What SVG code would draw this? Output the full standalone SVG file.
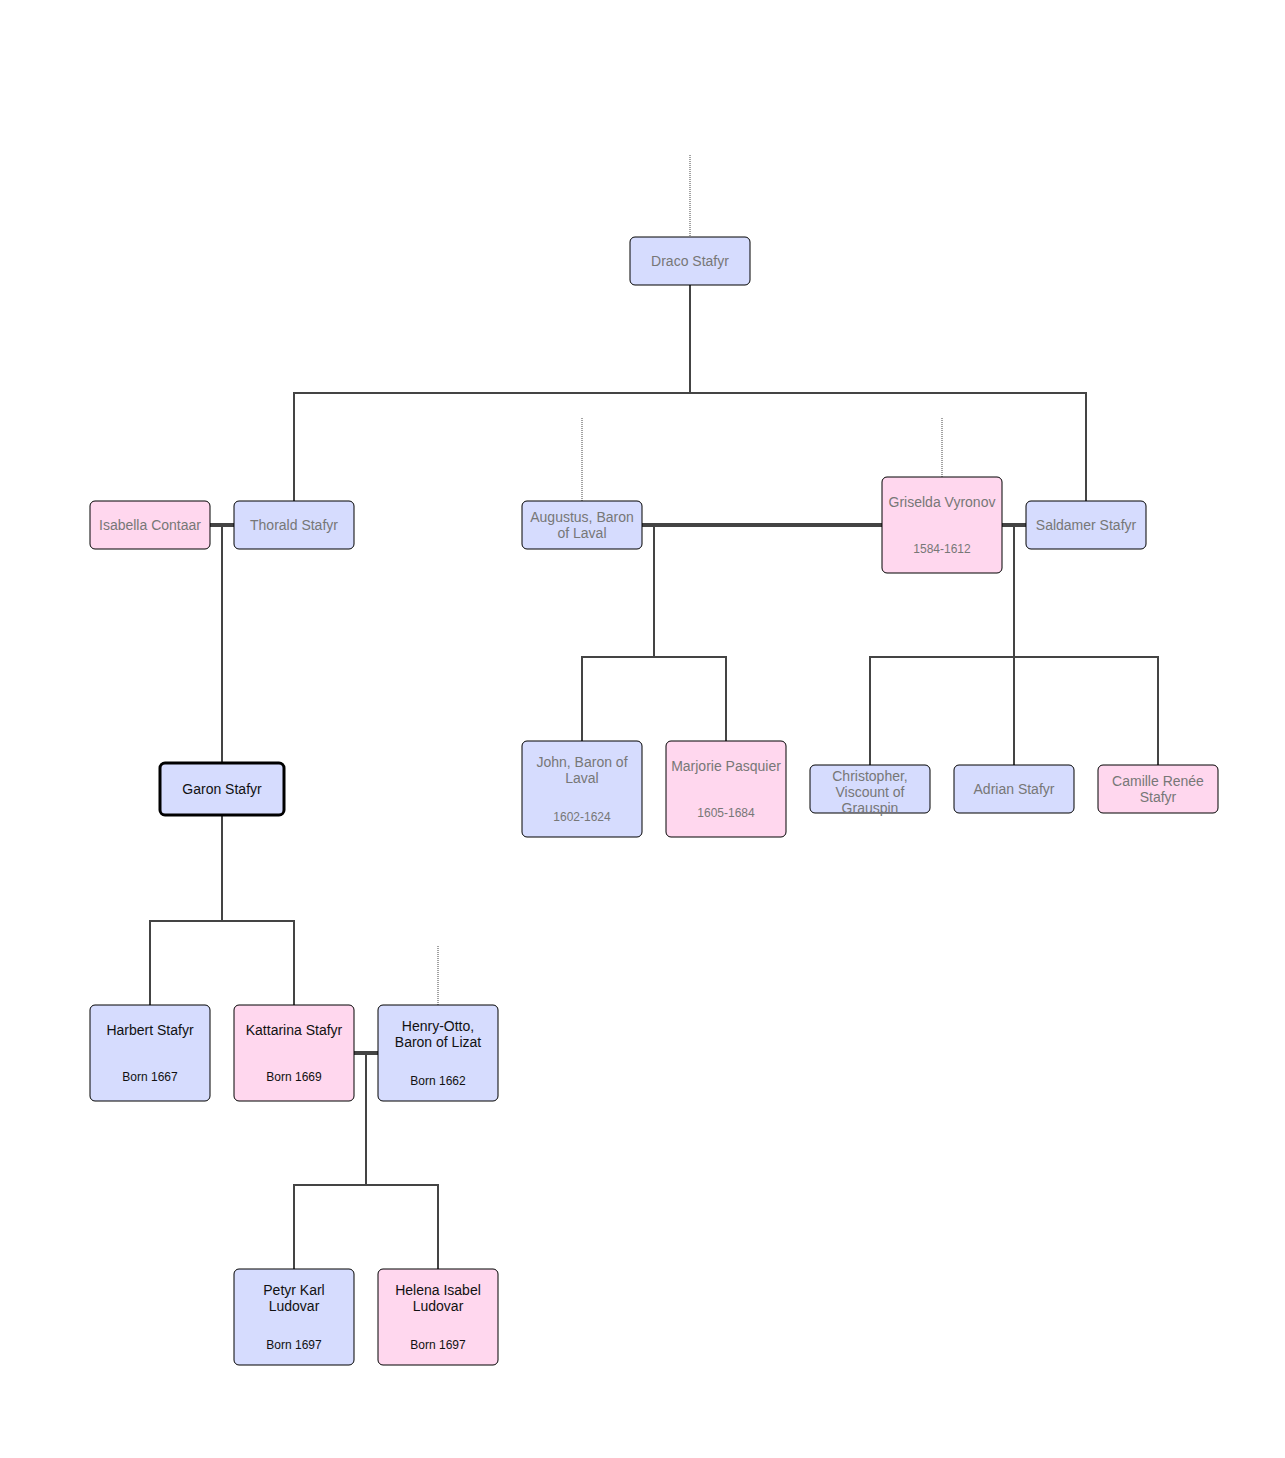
<svg xmlns="http://www.w3.org/2000/svg" width="1285" height="1458" viewBox="0 0 1285 1458">
<style>
rect{stroke:#000;stroke-width:1}
.m{fill:#d6dcfe}.f{fill:#ffd7ee}
text{font-family:"Liberation Sans",Arial,sans-serif;font-size:14px;text-anchor:middle}
.g{fill:#777}.d{fill:#111}
.s{font-size:12px}
.c line,.c polyline{stroke:#444;stroke-width:2;fill:none}
.c .t{stroke-width:4}
.c .dot{stroke:#444;stroke-width:1;stroke-dasharray:1 1}
</style>
<rect width="1285" height="1458" fill="#fff" style="stroke:none"/>
<g class="c" id="connectors">
<line class="dot" x1="690" y1="155" x2="690" y2="237"/>
<line class="dot" x1="582" y1="418" x2="582" y2="501"/>
<line class="dot" x1="942" y1="418" x2="942" y2="477"/>
<line class="dot" x1="438" y1="946" x2="438" y2="1005"/>
<line x1="690" y1="285" x2="690" y2="393"/>
<polyline points="294,501 294,393 1086,393 1086,501"/>
<line class="t" x1="210" y1="525" x2="234" y2="525"/>
<line class="t" x1="642" y1="525" x2="882" y2="525"/>
<line class="t" x1="1002" y1="525" x2="1026" y2="525"/>
<line class="t" x1="354" y1="1053" x2="378" y2="1053"/>
<line x1="222" y1="525" x2="222" y2="763"/>
<line x1="222" y1="815" x2="222" y2="921"/>
<polyline points="150,1005 150,921 294,921 294,1005"/>
<line x1="654" y1="525" x2="654" y2="657"/>
<polyline points="582,741 582,657 726,657 726,741"/>
<line x1="1014" y1="525" x2="1014" y2="765"/>
<polyline points="870,765 870,657 1158,657 1158,765"/>
<line x1="366" y1="1053" x2="366" y2="1185"/>
<polyline points="294,1269 294,1185 438,1185 438,1269"/>
</g>
<g id="draco"><rect class="m" x="630" y="237" width="120" height="48" rx="5"/><text class="g" x="690" y="266">Draco Stafyr</text></g>
<g id="isabella"><rect class="f" x="90" y="501" width="120" height="48" rx="5"/><text class="g" x="150" y="530">Isabella Contaar</text></g>
<g id="thorald"><rect class="m" x="234" y="501" width="120" height="48" rx="5"/><text class="g" x="294" y="530">Thorald Stafyr</text></g>
<g id="augustus"><rect class="m" x="522" y="501" width="120" height="48" rx="5"/><text class="g" x="582" y="522">Augustus, Baron</text><text class="g" x="582" y="538">of Laval</text></g>
<g id="griselda"><rect class="f" x="882" y="477" width="120" height="96" rx="5"/><text class="g" x="942" y="507">Griselda Vyronov</text><text class="g s" x="942" y="553">1584-1612</text></g>
<g id="saldamer"><rect class="m" x="1026" y="501" width="120" height="48" rx="5"/><text class="g" x="1086" y="530">Saldamer Stafyr</text></g>
<g id="john"><rect class="m" x="522" y="741" width="120" height="96" rx="5"/><text class="g" x="582" y="767">John, Baron of</text><text class="g" x="582" y="783">Laval</text><text class="g s" x="582" y="821">1602-1624</text></g>
<g id="marjorie"><rect class="f" x="666" y="741" width="120" height="96" rx="5"/><text class="g" x="726" y="771">Marjorie Pasquier</text><text class="g s" x="726" y="817">1605-1684</text></g>
<g id="christopher"><rect class="m" x="810" y="765" width="120" height="48" rx="5"/><text class="g" x="870" y="781">Christopher,</text><text class="g" x="870" y="797">Viscount of</text><text class="g" x="870" y="813">Grauspin</text></g>
<g id="adrian"><rect class="m" x="954" y="765" width="120" height="48" rx="5"/><text class="g" x="1014" y="794">Adrian Stafyr</text></g>
<g id="camille"><rect class="f" x="1098" y="765" width="120" height="48" rx="5"/><text class="g" x="1158" y="786">Camille Renée</text><text class="g" x="1158" y="802">Stafyr</text></g>
<g id="garon"><rect class="m" x="160" y="763" width="124" height="52" rx="5" style="stroke-width:3"/><text class="d" x="222" y="794">Garon Stafyr</text></g>
<g id="harbert"><rect class="m" x="90" y="1005" width="120" height="96" rx="5"/><text class="d" x="150" y="1035">Harbert Stafyr</text><text class="d s" x="150" y="1081">Born 1667</text></g>
<g id="kattarina"><rect class="f" x="234" y="1005" width="120" height="96" rx="5"/><text class="d" x="294" y="1035">Kattarina Stafyr</text><text class="d s" x="294" y="1081">Born 1669</text></g>
<g id="henry"><rect class="m" x="378" y="1005" width="120" height="96" rx="5"/><text class="d" x="438" y="1031">Henry-Otto,</text><text class="d" x="438" y="1047">Baron of Lizat</text><text class="d s" x="438" y="1085">Born 1662</text></g>
<g id="petyr"><rect class="m" x="234" y="1269" width="120" height="96" rx="5"/><text class="d" x="294" y="1295">Petyr Karl</text><text class="d" x="294" y="1311">Ludovar</text><text class="d s" x="294" y="1349">Born 1697</text></g>
<g id="helena"><rect class="f" x="378" y="1269" width="120" height="96" rx="5"/><text class="d" x="438" y="1295">Helena Isabel</text><text class="d" x="438" y="1311">Ludovar</text><text class="d s" x="438" y="1349">Born 1697</text></g>
</svg>
